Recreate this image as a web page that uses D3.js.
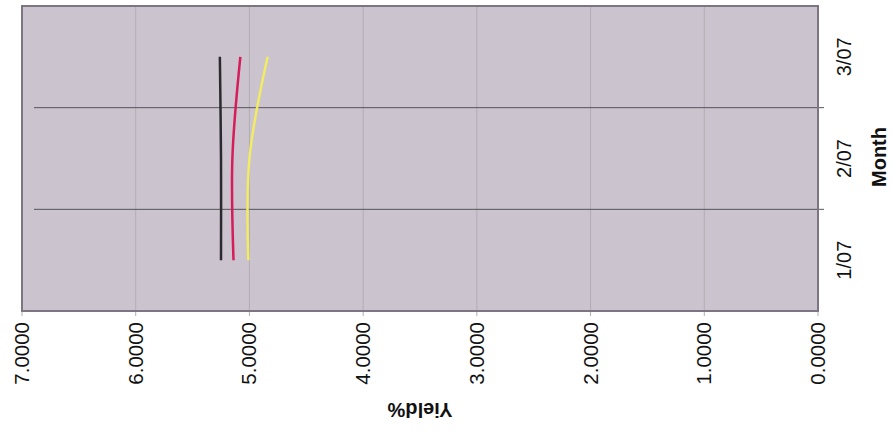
<!DOCTYPE html>
<html>
<head>
<meta charset="utf-8">
<script src="https://cdn.jsdelivr.net/npm/d3@7"></script>
<style>
	body { margin: 0; background: #fff; }
	svg text { font-family: "Liberation Sans", Arial, sans-serif; fill: #111; }
</style>
</head>
<body>
<div id="chart"></div>
<script>

///////////////////////////////////////////////////////////////////////////
////////////////////////////////// Data ///////////////////////////////////
///////////////////////////////////////////////////////////////////////////

var months = ["1/07", "2/07", "3/07"];
var xTicks = [7, 6, 5, 4, 3, 2, 1, 0];

var blackSeries = [5.25, 5.25, 5.26];
var redSeries = [5.14, 5.15, 5.08];
var yellowSeries = [5.01, 5.00, 4.84];

var seriesList = [
	{ values: blackSeries, color: "#2b2b2f" },
	{ values: redSeries, color: "#d61c5a" },
	{ values: yellowSeries, color: "#f1ec62" }
];

///////////////////////////////////////////////////////////////////////////
//////////////////////////////// Set up svg ///////////////////////////////
///////////////////////////////////////////////////////////////////////////

var width = 894, height = 434;
var plot = { left: 22, right: 818, top: 6, bottom: 311 };

var svg = d3.select("#chart").append("svg")
	.attr("width", width)
	.attr("height", height);

//Value axis runs right to left (chart is rotated)
var x = d3.scaleLinear()
	.domain([7, 0])
	.range([plot.left, plot.right]);

//Months run bottom to top
var y = d3.scaleBand()
	.domain(months)
	.range([plot.bottom, plot.top]);

//Plot background
svg.append("rect")
	.attr("x", plot.left)
	.attr("y", plot.top)
	.attr("width", plot.right - plot.left)
	.attr("height", plot.bottom - plot.top)
	.style("fill", "#cbc3cd");

//Vertical gridlines
svg.selectAll(".v-grid")
	.data(xTicks)
	.enter().append("line")
	.attr("class", "v-grid")
	.attr("x1", function(d) { return x(d); })
	.attr("x2", function(d) { return x(d); })
	.attr("y1", plot.top)
	.attr("y2", plot.bottom + 5)
	.style("stroke", "#b3acb5")
	.style("stroke-width", 1);

//Horizontal gridlines between months
svg.selectAll(".h-grid")
	.data(months.slice(1))
	.enter().append("line")
	.attr("class", "h-grid")
	.attr("x1", plot.left + 12)
	.attr("x2", plot.right + 6)
	.attr("y1", function(d) { return y(d) + y.bandwidth(); })
	.attr("y2", function(d) { return y(d) + y.bandwidth(); })
	.style("stroke", "#57535a")
	.style("stroke-width", 1);

//Plot border
svg.append("rect")
	.attr("x", plot.left)
	.attr("y", plot.top)
	.attr("width", plot.right - plot.left)
	.attr("height", plot.bottom - plot.top)
	.style("fill", "none")
	.style("stroke", "#7d7582")
	.style("stroke-width", 2);

///////////////////////////////////////////////////////////////////////////
////////////////////////////////// Lines //////////////////////////////////
///////////////////////////////////////////////////////////////////////////

var line = d3.line()
	.x(function(d) { return x(d.v); })
	.y(function(d) { return y(d.m) + y.bandwidth() / 2; })
	.curve(d3.curveCatmullRom);

svg.selectAll(".series")
	.data(seriesList)
	.enter().append("path")
	.attr("class", "series")
	.attr("d", function(s) {
		return line(s.values.map(function(v, i) { return { v: v, m: months[i] }; }));
	})
	.style("fill", "none")
	.style("stroke", function(s) { return s.color; })
	.style("stroke-width", 2.5);

///////////////////////////////////////////////////////////////////////////
////////////////////////////////// Labels /////////////////////////////////
///////////////////////////////////////////////////////////////////////////

//Value tick labels, rotated
svg.selectAll(".x-label")
	.data(xTicks)
	.enter().append("text")
	.attr("class", "x-label")
	.attr("transform", function(d) { return "translate(" + (x(d) + 7) + "," + (plot.bottom + 11) + ") rotate(-90)"; })
	.style("text-anchor", "end")
	.style("font-size", "20.5px")
	.text(function(d) { return d3.format(".4f")(d); });

//Month tick labels
svg.selectAll(".y-label")
	.data(months)
	.enter().append("text")
	.attr("class", "y-label")
	.attr("transform", function(d) { return "translate(" + 851 + "," + (y(d) + y.bandwidth() / 2) + ") rotate(-90)"; })
	.style("text-anchor", "middle")
	.style("font-size", "20px")
	.text(function(d) { return d; });

//Axis titles
svg.append("text")
	.attr("transform", "translate(" + 886 + "," + 157 + ") rotate(-90)")
	.style("text-anchor", "middle")
	.style("font-size", "20px")
	.style("font-weight", "bold")
	.text("Month");

svg.append("text")
	.attr("transform", "translate(" + 420 + "," + 403 + ") rotate(180)")
	.style("text-anchor", "middle")
	.style("font-size", "20px")
	.style("font-weight", "bold")
	.text("Yield%");

</script>
</body>
</html>
